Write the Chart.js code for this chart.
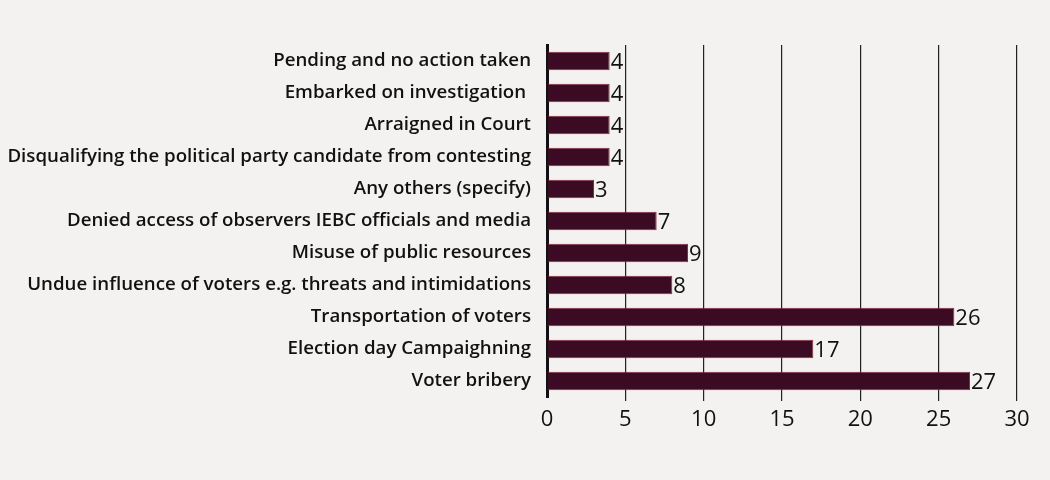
<!DOCTYPE html>
<html>
<head>
<meta charset="utf-8">
<script src="https://cdn.jsdelivr.net/npm/chart.js@4"></script>
<style>
  html, body { margin: 0; padding: 0; background: #f4f2f1; }
  #wrap { width: 1050px; height: 480px; position: relative; }
</style>
</head>
<body>
<div id="wrap"><canvas id="graphique"></canvas></div>
<script>
// categories, top to bottom
const categories = [
  "Pending and no action taken",
  "Embarked on investigation ",
  "Arraigned in Court",
  "Disqualifying the political party candidate from contesting",
  "Any others (specify)",
  "Denied access of observers IEBC officials and media",
  "Misuse of public resources",
  "Undue influence of voters e.g. threats and intimidations",
  "Transportation of voters",
  "Election day Campaighning",
  "Voter bribery",
];
const counts = [4, 4, 4, 4, 3, 7, 9, 8, 26, 17, 27];
const xTicks = [0, 5, 10, 15, 20, 25, 30];

const fontName = "'Open Sans', Lato, sans-serif";

// valeurs affichées au bout des barres
const valueLabels = {
  id: "valueLabels",
  afterDatasetsDraw(chart) {
    const ctx = chart.ctx;
    const meta = chart.getDatasetMeta(0);
    ctx.save();
    ctx.font = "22px " + fontName;
    ctx.fillStyle = "#111";
    ctx.textAlign = "left";
    ctx.textBaseline = "middle";
    meta.data.forEach((bar, i) => {
      ctx.fillText(String(counts[i]), bar.x + 1, bar.y + 2);
    });
    ctx.restore();
  },
};

const data = {
  labels: categories,
  datasets: [
    {
      data: counts,
      backgroundColor: "#3b0b24",
      borderColor: "#8b2b3c",
      borderWidth: 1,
      barPercentage: 0.58,
      categoryPercentage: 1,
    },
  ],
};

const config = {
  type: "bar",
  data: data,
  options: {
    indexAxis: "y",
    responsive: false,
    animation: false,
    layout: { padding: { top: 45, right: 33, bottom: 0, left: 0 } },
    plugins: { legend: { display: false }, tooltip: { enabled: false } },
    scales: {
      x: {
        min: 0,
        max: 30,
        afterBuildTicks: (scale) => {
          scale.ticks = xTicks.map((v) => ({ value: v }));
        },
        afterFit: (scale) => {
          scale.height = 83;
        },
        border: { display: false },
        grid: {
          color: (c) => (c.tick && c.tick.value === 0 ? "rgba(0,0,0,0)" : "#222"),
          lineWidth: 1.2,
          drawTicks: true,
          tickLength: 4,
        },
        ticks: {
          color: "#111",
          font: { family: fontName, size: 22 },
          padding: 6,
          maxRotation: 0,
        },
      },
      y: {
        afterFit: (scale) => {
          scale.width = 547;
        },
        border: { display: true, color: "#111", width: 3 },
        grid: { display: false },
        ticks: {
          color: "#111",
          font: { family: fontName, size: 18.7, weight: "600" },
          padding: 8,
          autoSkip: false,
        },
      },
    },
  },
  plugins: [valueLabels],
};

const canvas = document.querySelector("#graphique");
canvas.width = 1050;
canvas.height = 480;
const graphique = new Chart(canvas, config);
</script>
</body>
</html>
